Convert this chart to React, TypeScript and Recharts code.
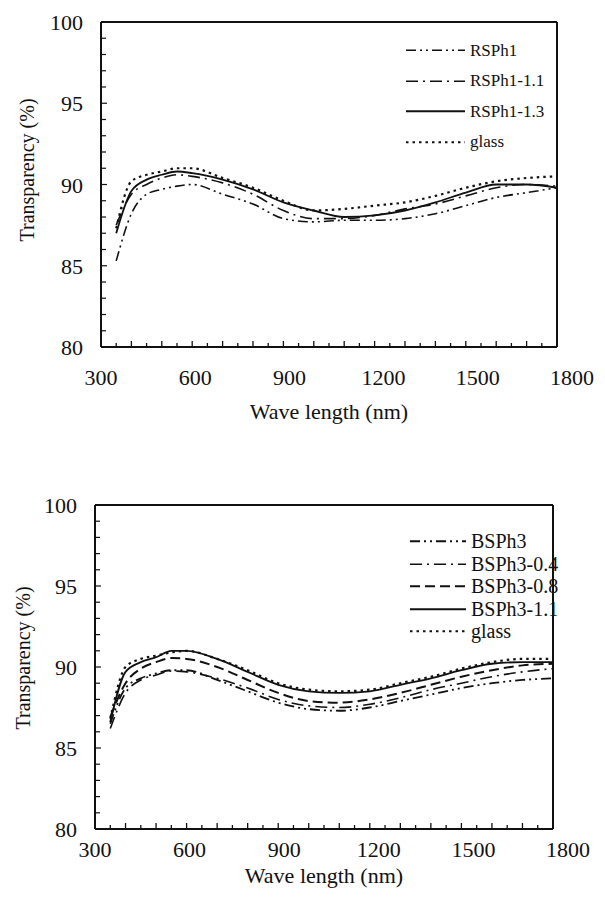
import React from "react";
import { LineChart, Line, XAxis, YAxis, ReferenceLine } from "recharts";

const WAVE = [350, 400, 450, 500, 550, 600, 700, 800, 900, 1000, 1100, 1200, 1300, 1400, 1500, 1600, 1700, 1800];

// top panel
const RSPH1 = [85.3, 88.2, 89.4, 89.7, 89.9, 90.0, 89.4, 88.8, 87.9, 87.7, 87.8, 87.8, 87.9, 88.2, 88.7, 89.2, 89.5, 89.8];
const RSPH1_11 = [87.5, 89.4, 90.0, 90.4, 90.6, 90.5, 90.1, 89.4, 88.4, 87.9, 87.9, 88.1, 88.5, 88.8, 89.3, 89.8, 90.0, 89.9];
const RSPH1_13 = [87.0, 89.6, 90.3, 90.6, 90.8, 90.7, 90.3, 89.7, 88.9, 88.4, 88.0, 88.1, 88.4, 88.9, 89.5, 90.0, 90.0, 89.8];
const GLASS_A = [87.3, 90.2, 90.6, 90.8, 91.0, 91.0, 90.4, 89.8, 89.0, 88.4, 88.5, 88.7, 88.9, 89.3, 89.8, 90.2, 90.4, 90.5];

// bottom panel
const BSPH3 = [86.5, 88.7, 89.3, 89.6, 89.8, 89.8, 89.2, 88.5, 87.8, 87.4, 87.3, 87.5, 87.9, 88.3, 88.7, 89.0, 89.2, 89.3];
const BSPH3_04 = [86.2, 88.4, 89.2, 89.5, 89.75, 89.7, 89.3, 88.7, 88.0, 87.6, 87.5, 87.7, 88.1, 88.6, 89.0, 89.4, 89.7, 89.9];
const BSPH3_08 = [86.9, 89.0, 89.9, 90.3, 90.55, 90.5, 90.0, 89.2, 88.4, 87.9, 87.8, 88.0, 88.4, 88.9, 89.4, 89.8, 90.1, 90.2];
const BSPH3_11 = [86.6, 89.7, 90.3, 90.6, 91.0, 91.0, 90.5, 89.7, 88.9, 88.5, 88.4, 88.5, 88.9, 89.3, 89.8, 90.2, 90.3, 90.3];
const GLASS_B = [86.8, 90.0, 90.5, 90.7, 90.9, 91.0, 90.5, 89.8, 89.0, 88.6, 88.5, 88.6, 89.0, 89.4, 89.9, 90.3, 90.5, 90.5];

const X_TICKS = Array.from({ length: 31 }, (_, i) => 300 + i * 50);
const Y_TICKS = Array.from({ length: 21 }, (_, i) => 80 + i);
const X_LABELS = [300, 600, 900, 1200, 1500, 1800];
const Y_LABELS = [80, 85, 90, 95, 100];

const FONT = "'Liberation Serif', 'Times New Roman', serif";

type S = { key: string; name: string; values: number[]; dash?: string; width: number };

const TOP_SERIES: S[] = [
  { key: "a", name: "RSPh1", values: RSPH1, dash: "10 4 2 4 2 4", width: 1.6 },
  { key: "b", name: "RSPh1-1.1", values: RSPH1_11, dash: "12 5 2 5", width: 1.6 },
  { key: "c", name: "RSPh1-1.3", values: RSPH1_13, width: 1.8 },
  { key: "d", name: "glass", values: GLASS_A, dash: "2.5 4", width: 2.2 },
];

const BOTTOM_SERIES: S[] = [
  { key: "a", name: "BSPh3", values: BSPH3, dash: "10 4 2 4 2 4", width: 1.8 },
  { key: "b", name: "BSPh3-0.4", values: BSPH3_04, dash: "12 5 2 5", width: 1.6 },
  { key: "c", name: "BSPh3-0.8", values: BSPH3_08, dash: "10 5", width: 2 },
  { key: "d", name: "BSPh3-1.1", values: BSPH3_11, width: 1.8 },
  { key: "e", name: "glass", values: GLASS_B, dash: "2.5 4", width: 2.2 },
];

const rows = (series: S[]) =>
  WAVE.map((w, i) => {
    const r: Record<string, number> = { w };
    series.forEach((s) => (r[s.key] = s.values[i]));
    return r;
  });

const XTick = (props: any) => {
  const { x, y, payload, labelDy } = props;
  const v = payload.value;
  const len = v % 100 === 0 ? 6 : 4;
  const labelDx = ((v - 300) / 300) * 3;
  return (
    <g>
      <line x1={x} x2={x} y1={y} y2={y - len} stroke="#111" strokeWidth={1.3} />
      {X_LABELS.includes(v) && (
        <text x={x + labelDx} y={y + labelDy} textAnchor="middle" fontSize={22} fontFamily={FONT} fill="#111">
          {v}
        </text>
      )}
    </g>
  );
};

const YTick = (props: any) => {
  const { x, y, payload } = props;
  const v = payload.value;
  return (
    <g>
      <line x1={x} x2={x + (v % 5 === 0 ? 6 : 5)} y1={y} y2={y} stroke="#111" strokeWidth={1.2} />
      {Y_LABELS.includes(v) && (
        <text x={x - 18} y={y + 8} textAnchor="end" fontSize={22} fontFamily={FONT} fill="#111">
          {v}
        </text>
      )}
    </g>
  );
};

function LegendBox({ series, left, top, rowH, fontSize, lineW }: { series: S[]; left: number; top: number; rowH: number; fontSize: number; lineW: number }) {
  return (
    <div style={{ position: "absolute", left, top, fontFamily: FONT }}>
      {series.map((s) => (
        <div key={s.key} style={{ height: rowH, display: "flex", alignItems: "center" }}>
          <svg width={lineW + 5} height={rowH} style={{ display: "block" }}>
            <line x1={0} x2={lineW} y1={rowH / 2} y2={rowH / 2} stroke="#111" strokeWidth={s.width} strokeDasharray={s.dash} />
          </svg>
          <span style={{ fontSize, color: "#111", lineHeight: 1, whiteSpace: "nowrap" }}>{s.name}</span>
        </div>
      ))}
    </div>
  );
}

type PanelProps = {
  series: S[];
  top: number;
  height: number;
  margin: { top: number; right: number; bottom: number; left: number };
  labelDy: number;
  xTitleY: number;
  yTitle: { x: number; y: number };
  legend: { left: number; top: number; rowH: number; fontSize: number; lineW: number };
};

function Panel({ series, top, height, margin, labelDy, xTitleY, yTitle, legend }: PanelProps) {
  const data = rows(series);
  return (
    <div style={{ position: "absolute", left: 0, top, width: 605, height }}>
      <LineChart width={605} height={height} data={data} margin={margin}>
        <XAxis
          dataKey="w"
          type="number"
          domain={[300, 1800]}
          ticks={X_TICKS}
          interval={0}
          tickSize={0}
          tickMargin={0}
          tickLine={false}
          tick={<XTick labelDy={labelDy} />}
          height={60}
          axisLine={{ stroke: "#111", strokeWidth: 2 }}
          label={{
            content: () => (
              <text x={(margin.left + 60 + 605 - margin.right) / 2} y={xTitleY} textAnchor="middle" fontSize={22} fontFamily={FONT} fill="#111">
                Wave length (nm)
              </text>
            ),
          }}
        />
        <YAxis
          type="number"
          domain={[80, 100]}
          ticks={Y_TICKS}
          interval={0}
          tickSize={0}
          tickMargin={0}
          tickLine={false}
          tick={<YTick />}
          width={60}
          axisLine={{ stroke: "#111", strokeWidth: 2 }}
          label={{
            content: () => (
              <text
                x={yTitle.x}
                y={yTitle.y}
                transform={`rotate(-90 ${yTitle.x} ${yTitle.y})`}
                textAnchor="middle"
                dominantBaseline="central"
                fontSize={20}
                fontFamily={FONT}
                fill="#111"
              >
                Transparency (%)
              </text>
            ),
          }}
        />
        <ReferenceLine y={100} stroke="#111" strokeWidth={2} />
        <ReferenceLine x={1800} stroke="#111" strokeWidth={2} />
        {series.map((s) => (
          <Line
            key={s.key}
            type="monotone"
            dataKey={s.key}
            name={s.name}
            stroke="#111"
            strokeWidth={s.width}
            strokeDasharray={s.dash}
            dot={false}
            isAnimationActive={false}
          />
        ))}
      </LineChart>
      <LegendBox series={series} {...legend} />
    </div>
  );
}

export default function App() {
  return (
    <div style={{ position: "absolute", left: 0, top: 0, width: 605, height: 909, background: "#fff" }}>
      <Panel
        series={TOP_SERIES}
        top={0}
        height={440}
        margin={{ top: 22, right: 48, bottom: 33, left: 41 }}
        labelDy={38}
        xTitleY={419}
        yTitle={{ x: 27, y: 170 }}
        legend={{ left: 406, top: 35, rowH: 30.5, fontSize: 17, lineW: 59 }}
      />
      <Panel
        series={BOTTOM_SERIES}
        top={480}
        height={429}
        margin={{ top: 25, right: 52, bottom: 20, left: 35 }}
        labelDy={28}
        xTitleY={403}
        yTitle={{ x: 23, y: 178 }}
        legend={{ left: 410, top: 50, rowH: 22.5, fontSize: 20, lineW: 56 }}
      />
    </div>
  );
}
